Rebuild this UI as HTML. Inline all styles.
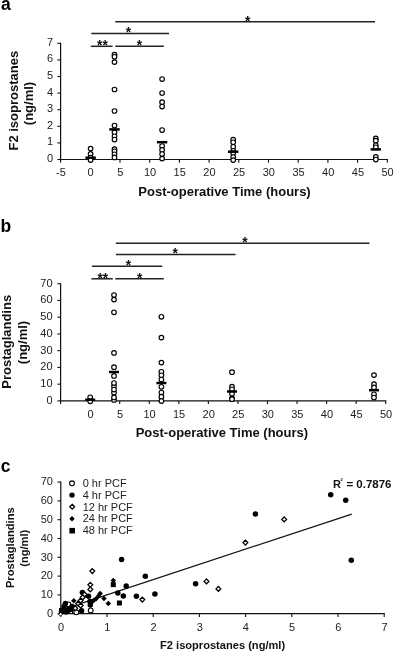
<!DOCTYPE html>
<html><head><meta charset="utf-8"><style>
html,body{margin:0;padding:0;background:#fff;}
svg{display:block;font-family:"Liberation Sans", sans-serif;will-change:transform;}
</style></head><body>
<svg width="394" height="654" viewBox="0 0 394 654">
<text x="0.90" y="9.60" font-size="17.5" text-anchor="start" fill="#000" font-weight="bold" >a</text>
<text x="0.60" y="232.20" font-size="17.5" text-anchor="start" fill="#000" font-weight="bold" >b</text>
<text x="0.80" y="471.80" font-size="17.5" text-anchor="start" fill="#000" font-weight="bold" >c</text>
<line x1="60.60" y1="42.80" x2="60.60" y2="160.00" stroke="#111" stroke-width="1.2"/>
<line x1="60.00" y1="159.50" x2="387.90" y2="159.50" stroke="#111" stroke-width="1.2"/>
<line x1="57.40" y1="159.50" x2="60.60" y2="159.50" stroke="#111" stroke-width="1.1"/>
<text x="53.00" y="162.00" font-size="11" text-anchor="end" fill="#222" >0</text>
<line x1="57.40" y1="142.90" x2="60.60" y2="142.90" stroke="#111" stroke-width="1.1"/>
<text x="53.00" y="145.40" font-size="11" text-anchor="end" fill="#222" >1</text>
<line x1="57.40" y1="126.30" x2="60.60" y2="126.30" stroke="#111" stroke-width="1.1"/>
<text x="53.00" y="128.80" font-size="11" text-anchor="end" fill="#222" >2</text>
<line x1="57.40" y1="109.70" x2="60.60" y2="109.70" stroke="#111" stroke-width="1.1"/>
<text x="53.00" y="112.20" font-size="11" text-anchor="end" fill="#222" >3</text>
<line x1="57.40" y1="93.10" x2="60.60" y2="93.10" stroke="#111" stroke-width="1.1"/>
<text x="53.00" y="95.60" font-size="11" text-anchor="end" fill="#222" >4</text>
<line x1="57.40" y1="76.50" x2="60.60" y2="76.50" stroke="#111" stroke-width="1.1"/>
<text x="53.00" y="79.00" font-size="11" text-anchor="end" fill="#222" >5</text>
<line x1="57.40" y1="59.90" x2="60.60" y2="59.90" stroke="#111" stroke-width="1.1"/>
<text x="53.00" y="62.40" font-size="11" text-anchor="end" fill="#222" >6</text>
<line x1="57.40" y1="43.30" x2="60.60" y2="43.30" stroke="#111" stroke-width="1.1"/>
<text x="53.00" y="45.80" font-size="11" text-anchor="end" fill="#222" >7</text>
<line x1="60.60" y1="159.50" x2="60.60" y2="162.70" stroke="#111" stroke-width="1.1"/>
<text x="60.90" y="176.00" font-size="11" text-anchor="middle" fill="#222" >-5</text>
<line x1="90.30" y1="159.50" x2="90.30" y2="162.70" stroke="#111" stroke-width="1.1"/>
<text x="90.60" y="176.00" font-size="11" text-anchor="middle" fill="#222" >0</text>
<line x1="120.00" y1="159.50" x2="120.00" y2="162.70" stroke="#111" stroke-width="1.1"/>
<text x="120.30" y="176.00" font-size="11" text-anchor="middle" fill="#222" >5</text>
<line x1="149.70" y1="159.50" x2="149.70" y2="162.70" stroke="#111" stroke-width="1.1"/>
<text x="150.00" y="176.00" font-size="11" text-anchor="middle" fill="#222" >10</text>
<line x1="179.40" y1="159.50" x2="179.40" y2="162.70" stroke="#111" stroke-width="1.1"/>
<text x="179.70" y="176.00" font-size="11" text-anchor="middle" fill="#222" >15</text>
<line x1="209.10" y1="159.50" x2="209.10" y2="162.70" stroke="#111" stroke-width="1.1"/>
<text x="209.40" y="176.00" font-size="11" text-anchor="middle" fill="#222" >20</text>
<line x1="238.80" y1="159.50" x2="238.80" y2="162.70" stroke="#111" stroke-width="1.1"/>
<text x="239.10" y="176.00" font-size="11" text-anchor="middle" fill="#222" >25</text>
<line x1="268.50" y1="159.50" x2="268.50" y2="162.70" stroke="#111" stroke-width="1.1"/>
<text x="268.80" y="176.00" font-size="11" text-anchor="middle" fill="#222" >30</text>
<line x1="298.20" y1="159.50" x2="298.20" y2="162.70" stroke="#111" stroke-width="1.1"/>
<text x="298.50" y="176.00" font-size="11" text-anchor="middle" fill="#222" >35</text>
<line x1="327.90" y1="159.50" x2="327.90" y2="162.70" stroke="#111" stroke-width="1.1"/>
<text x="328.20" y="176.00" font-size="11" text-anchor="middle" fill="#222" >40</text>
<line x1="357.60" y1="159.50" x2="357.60" y2="162.70" stroke="#111" stroke-width="1.1"/>
<text x="357.90" y="176.00" font-size="11" text-anchor="middle" fill="#222" >45</text>
<line x1="387.30" y1="159.50" x2="387.30" y2="162.70" stroke="#111" stroke-width="1.1"/>
<text x="387.60" y="176.00" font-size="11" text-anchor="middle" fill="#222" >50</text>
<text x="224.50" y="195.80" font-size="13" text-anchor="middle" fill="#111" font-weight="bold" >Post-operative Time (hours)</text>
<text transform="translate(18.3,100.7) rotate(-90)" font-size="13" font-weight="bold" text-anchor="middle" fill="#111">F2 isoprostanes</text>
<text transform="translate(33.4,103.5) rotate(-90)" font-size="13" font-weight="bold" text-anchor="middle" fill="#111">(ng/ml)</text>
<circle cx="90.60" cy="148.60" r="2.3" fill="#fff" stroke="#000" stroke-width="1.15"/>
<circle cx="90.60" cy="153.90" r="2.3" fill="#fff" stroke="#000" stroke-width="1.15"/>
<circle cx="90.60" cy="157.50" r="2.3" fill="#fff" stroke="#000" stroke-width="1.15"/>
<circle cx="90.60" cy="160.10" r="2.3" fill="#fff" stroke="#000" stroke-width="1.15"/>
<circle cx="114.50" cy="54.70" r="2.3" fill="#fff" stroke="#000" stroke-width="1.15"/>
<circle cx="114.50" cy="56.80" r="2.3" fill="#fff" stroke="#000" stroke-width="1.15"/>
<circle cx="114.50" cy="62.10" r="2.3" fill="#fff" stroke="#000" stroke-width="1.15"/>
<circle cx="114.50" cy="89.50" r="2.3" fill="#fff" stroke="#000" stroke-width="1.15"/>
<circle cx="114.50" cy="111.00" r="2.3" fill="#fff" stroke="#000" stroke-width="1.15"/>
<circle cx="114.50" cy="125.50" r="2.3" fill="#fff" stroke="#000" stroke-width="1.15"/>
<circle cx="114.50" cy="132.40" r="2.3" fill="#fff" stroke="#000" stroke-width="1.15"/>
<circle cx="114.50" cy="136.30" r="2.3" fill="#fff" stroke="#000" stroke-width="1.15"/>
<circle cx="114.50" cy="139.50" r="2.3" fill="#fff" stroke="#000" stroke-width="1.15"/>
<circle cx="114.50" cy="149.20" r="2.3" fill="#fff" stroke="#000" stroke-width="1.15"/>
<circle cx="114.50" cy="151.30" r="2.3" fill="#fff" stroke="#000" stroke-width="1.15"/>
<circle cx="114.50" cy="154.30" r="2.3" fill="#fff" stroke="#000" stroke-width="1.15"/>
<circle cx="114.50" cy="157.40" r="2.3" fill="#fff" stroke="#000" stroke-width="1.15"/>
<circle cx="162.10" cy="79.10" r="2.3" fill="#fff" stroke="#000" stroke-width="1.15"/>
<circle cx="162.10" cy="93.00" r="2.3" fill="#fff" stroke="#000" stroke-width="1.15"/>
<circle cx="162.10" cy="102.20" r="2.3" fill="#fff" stroke="#000" stroke-width="1.15"/>
<circle cx="162.10" cy="106.60" r="2.3" fill="#fff" stroke="#000" stroke-width="1.15"/>
<circle cx="162.10" cy="130.00" r="2.3" fill="#fff" stroke="#000" stroke-width="1.15"/>
<circle cx="162.10" cy="146.00" r="2.3" fill="#fff" stroke="#000" stroke-width="1.15"/>
<circle cx="162.10" cy="149.90" r="2.3" fill="#fff" stroke="#000" stroke-width="1.15"/>
<circle cx="162.10" cy="154.00" r="2.3" fill="#fff" stroke="#000" stroke-width="1.15"/>
<circle cx="162.10" cy="158.60" r="2.3" fill="#fff" stroke="#000" stroke-width="1.15"/>
<circle cx="233.20" cy="139.70" r="2.3" fill="#fff" stroke="#000" stroke-width="1.15"/>
<circle cx="233.20" cy="142.30" r="2.3" fill="#fff" stroke="#000" stroke-width="1.15"/>
<circle cx="233.20" cy="146.80" r="2.3" fill="#fff" stroke="#000" stroke-width="1.15"/>
<circle cx="233.20" cy="150.80" r="2.3" fill="#fff" stroke="#000" stroke-width="1.15"/>
<circle cx="233.20" cy="153.00" r="2.3" fill="#fff" stroke="#000" stroke-width="1.15"/>
<circle cx="233.20" cy="157.00" r="2.3" fill="#fff" stroke="#000" stroke-width="1.15"/>
<circle cx="233.20" cy="160.10" r="2.3" fill="#fff" stroke="#000" stroke-width="1.15"/>
<circle cx="375.80" cy="138.40" r="2.3" fill="#fff" stroke="#000" stroke-width="1.15"/>
<circle cx="375.80" cy="140.70" r="2.3" fill="#fff" stroke="#000" stroke-width="1.15"/>
<circle cx="375.80" cy="145.30" r="2.3" fill="#fff" stroke="#000" stroke-width="1.15"/>
<circle cx="375.80" cy="147.30" r="2.3" fill="#fff" stroke="#000" stroke-width="1.15"/>
<circle cx="375.80" cy="156.90" r="2.3" fill="#fff" stroke="#000" stroke-width="1.15"/>
<circle cx="375.80" cy="159.50" r="2.3" fill="#fff" stroke="#000" stroke-width="1.15"/>
<rect x="85.40" y="156.45" width="10.4" height="2.5" fill="#000"/>
<rect x="109.30" y="128.15" width="10.4" height="2.5" fill="#000"/>
<rect x="156.90" y="140.95" width="10.4" height="2.5" fill="#000"/>
<rect x="228.00" y="150.45" width="10.4" height="2.5" fill="#000"/>
<rect x="370.60" y="148.15" width="10.4" height="2.5" fill="#000"/>
<line x1="115.30" y1="21.80" x2="375.00" y2="21.80" stroke="#222" stroke-width="1.5"/>
<text x="247.80" y="25.50" font-size="13.8" text-anchor="middle" fill="#111" font-weight="bold">*</text>
<line x1="91.30" y1="33.50" x2="169.00" y2="33.50" stroke="#222" stroke-width="1.5"/>
<text x="128.40" y="37.10" font-size="13.8" text-anchor="middle" fill="#111" font-weight="bold">*</text>
<line x1="90.80" y1="46.30" x2="112.60" y2="46.30" stroke="#222" stroke-width="1.5"/>
<line x1="115.30" y1="46.30" x2="163.80" y2="46.30" stroke="#222" stroke-width="1.5"/>
<text x="102.40" y="50.10" font-size="13.8" text-anchor="middle" fill="#111" font-weight="bold">**</text>
<text x="139.40" y="50.10" font-size="13.8" text-anchor="middle" fill="#111" font-weight="bold">*</text>
<line x1="60.60" y1="283.22" x2="60.60" y2="401.40" stroke="#111" stroke-width="1.2"/>
<line x1="60.00" y1="400.90" x2="386.31" y2="400.90" stroke="#111" stroke-width="1.2"/>
<line x1="57.40" y1="400.90" x2="60.60" y2="400.90" stroke="#111" stroke-width="1.1"/>
<text x="52.60" y="403.90" font-size="11" text-anchor="end" fill="#222" >0</text>
<line x1="57.40" y1="384.16" x2="60.60" y2="384.16" stroke="#111" stroke-width="1.1"/>
<text x="52.60" y="387.16" font-size="11" text-anchor="end" fill="#222" >10</text>
<line x1="57.40" y1="367.42" x2="60.60" y2="367.42" stroke="#111" stroke-width="1.1"/>
<text x="52.60" y="370.42" font-size="11" text-anchor="end" fill="#222" >20</text>
<line x1="57.40" y1="350.68" x2="60.60" y2="350.68" stroke="#111" stroke-width="1.1"/>
<text x="52.60" y="353.68" font-size="11" text-anchor="end" fill="#222" >30</text>
<line x1="57.40" y1="333.94" x2="60.60" y2="333.94" stroke="#111" stroke-width="1.1"/>
<text x="52.60" y="336.94" font-size="11" text-anchor="end" fill="#222" >40</text>
<line x1="57.40" y1="317.20" x2="60.60" y2="317.20" stroke="#111" stroke-width="1.1"/>
<text x="52.60" y="320.20" font-size="11" text-anchor="end" fill="#222" >50</text>
<line x1="57.40" y1="300.46" x2="60.60" y2="300.46" stroke="#111" stroke-width="1.1"/>
<text x="52.60" y="303.46" font-size="11" text-anchor="end" fill="#222" >60</text>
<line x1="57.40" y1="283.72" x2="60.60" y2="283.72" stroke="#111" stroke-width="1.1"/>
<text x="52.60" y="286.72" font-size="11" text-anchor="end" fill="#222" >70</text>
<line x1="60.60" y1="400.90" x2="60.60" y2="404.10" stroke="#111" stroke-width="1.1"/>
<line x1="90.16" y1="400.90" x2="90.16" y2="404.10" stroke="#111" stroke-width="1.1"/>
<text x="90.45" y="417.60" font-size="11" text-anchor="middle" fill="#222" >0</text>
<line x1="119.71" y1="400.90" x2="119.71" y2="404.10" stroke="#111" stroke-width="1.1"/>
<text x="120.01" y="417.60" font-size="11" text-anchor="middle" fill="#222" >5</text>
<line x1="149.26" y1="400.90" x2="149.26" y2="404.10" stroke="#111" stroke-width="1.1"/>
<text x="149.56" y="417.60" font-size="11" text-anchor="middle" fill="#222" >10</text>
<line x1="178.82" y1="400.90" x2="178.82" y2="404.10" stroke="#111" stroke-width="1.1"/>
<text x="179.12" y="417.60" font-size="11" text-anchor="middle" fill="#222" >15</text>
<line x1="208.37" y1="400.90" x2="208.37" y2="404.10" stroke="#111" stroke-width="1.1"/>
<text x="208.67" y="417.60" font-size="11" text-anchor="middle" fill="#222" >20</text>
<line x1="237.93" y1="400.90" x2="237.93" y2="404.10" stroke="#111" stroke-width="1.1"/>
<text x="238.23" y="417.60" font-size="11" text-anchor="middle" fill="#222" >25</text>
<line x1="267.49" y1="400.90" x2="267.49" y2="404.10" stroke="#111" stroke-width="1.1"/>
<text x="267.79" y="417.60" font-size="11" text-anchor="middle" fill="#222" >30</text>
<line x1="297.04" y1="400.90" x2="297.04" y2="404.10" stroke="#111" stroke-width="1.1"/>
<text x="297.34" y="417.60" font-size="11" text-anchor="middle" fill="#222" >35</text>
<line x1="326.60" y1="400.90" x2="326.60" y2="404.10" stroke="#111" stroke-width="1.1"/>
<text x="326.90" y="417.60" font-size="11" text-anchor="middle" fill="#222" >40</text>
<line x1="356.15" y1="400.90" x2="356.15" y2="404.10" stroke="#111" stroke-width="1.1"/>
<text x="356.45" y="417.60" font-size="11" text-anchor="middle" fill="#222" >45</text>
<line x1="385.70" y1="400.90" x2="385.70" y2="404.10" stroke="#111" stroke-width="1.1"/>
<text x="386.00" y="417.60" font-size="11" text-anchor="middle" fill="#222" >50</text>
<text x="221.90" y="437.20" font-size="13" text-anchor="middle" fill="#111" font-weight="bold" >Post-operative Time (hours)</text>
<text transform="translate(11.4,341.8) rotate(-90)" font-size="13" font-weight="bold" text-anchor="middle" fill="#111">Prostaglandins</text>
<text transform="translate(26.9,342.5) rotate(-90)" font-size="13" font-weight="bold" text-anchor="middle" fill="#111">(ng/ml)</text>
<circle cx="90.20" cy="397.30" r="2.3" fill="#fff" stroke="#000" stroke-width="1.15"/>
<circle cx="90.20" cy="401.30" r="2.3" fill="#fff" stroke="#000" stroke-width="1.15"/>
<circle cx="114.00" cy="295.00" r="2.3" fill="#fff" stroke="#000" stroke-width="1.15"/>
<circle cx="114.00" cy="299.60" r="2.3" fill="#fff" stroke="#000" stroke-width="1.15"/>
<circle cx="114.00" cy="312.30" r="2.3" fill="#fff" stroke="#000" stroke-width="1.15"/>
<circle cx="114.00" cy="352.90" r="2.3" fill="#fff" stroke="#000" stroke-width="1.15"/>
<circle cx="114.00" cy="367.20" r="2.3" fill="#fff" stroke="#000" stroke-width="1.15"/>
<circle cx="114.00" cy="375.90" r="2.3" fill="#fff" stroke="#000" stroke-width="1.15"/>
<circle cx="114.00" cy="386.10" r="2.3" fill="#fff" stroke="#000" stroke-width="1.15"/>
<circle cx="114.00" cy="392.80" r="2.3" fill="#fff" stroke="#000" stroke-width="1.15"/>
<circle cx="114.00" cy="399.90" r="2.3" fill="#fff" stroke="#000" stroke-width="1.15"/>
<circle cx="114.00" cy="383.00" r="2.3" fill="#fff" stroke="#000" stroke-width="1.15"/>
<circle cx="114.00" cy="389.50" r="2.3" fill="#fff" stroke="#000" stroke-width="1.15"/>
<circle cx="114.00" cy="397.40" r="2.3" fill="#fff" stroke="#000" stroke-width="1.15"/>
<circle cx="161.40" cy="316.80" r="2.3" fill="#fff" stroke="#000" stroke-width="1.15"/>
<circle cx="161.40" cy="337.60" r="2.3" fill="#fff" stroke="#000" stroke-width="1.15"/>
<circle cx="161.40" cy="362.60" r="2.3" fill="#fff" stroke="#000" stroke-width="1.15"/>
<circle cx="161.40" cy="371.80" r="2.3" fill="#fff" stroke="#000" stroke-width="1.15"/>
<circle cx="161.40" cy="375.30" r="2.3" fill="#fff" stroke="#000" stroke-width="1.15"/>
<circle cx="161.40" cy="379.50" r="2.3" fill="#fff" stroke="#000" stroke-width="1.15"/>
<circle cx="161.40" cy="386.80" r="2.3" fill="#fff" stroke="#000" stroke-width="1.15"/>
<circle cx="161.40" cy="392.50" r="2.3" fill="#fff" stroke="#000" stroke-width="1.15"/>
<circle cx="161.40" cy="396.70" r="2.3" fill="#fff" stroke="#000" stroke-width="1.15"/>
<circle cx="161.40" cy="401.00" r="2.3" fill="#fff" stroke="#000" stroke-width="1.15"/>
<circle cx="232.00" cy="372.20" r="2.3" fill="#fff" stroke="#000" stroke-width="1.15"/>
<circle cx="232.00" cy="386.60" r="2.3" fill="#fff" stroke="#000" stroke-width="1.15"/>
<circle cx="232.00" cy="389.30" r="2.3" fill="#fff" stroke="#000" stroke-width="1.15"/>
<circle cx="232.00" cy="393.80" r="2.3" fill="#fff" stroke="#000" stroke-width="1.15"/>
<circle cx="232.00" cy="398.40" r="2.3" fill="#fff" stroke="#000" stroke-width="1.15"/>
<circle cx="232.00" cy="399.20" r="2.3" fill="#fff" stroke="#000" stroke-width="1.15"/>
<circle cx="374.00" cy="375.10" r="2.3" fill="#fff" stroke="#000" stroke-width="1.15"/>
<circle cx="374.00" cy="384.20" r="2.3" fill="#fff" stroke="#000" stroke-width="1.15"/>
<circle cx="374.00" cy="387.40" r="2.3" fill="#fff" stroke="#000" stroke-width="1.15"/>
<circle cx="374.00" cy="394.30" r="2.3" fill="#fff" stroke="#000" stroke-width="1.15"/>
<circle cx="374.00" cy="397.50" r="2.3" fill="#fff" stroke="#000" stroke-width="1.15"/>
<rect x="85.20" y="398.45" width="10.0" height="2.5" fill="#000"/>
<rect x="109.00" y="370.75" width="10.0" height="2.5" fill="#000"/>
<rect x="156.40" y="381.75" width="10.0" height="2.5" fill="#000"/>
<rect x="227.00" y="390.25" width="10.0" height="2.5" fill="#000"/>
<rect x="369.00" y="388.95" width="10.0" height="2.5" fill="#000"/>
<line x1="115.80" y1="243.30" x2="369.50" y2="243.30" stroke="#222" stroke-width="1.5"/>
<text x="245.00" y="246.90" font-size="13.8" text-anchor="middle" fill="#111" font-weight="bold">*</text>
<line x1="115.80" y1="254.50" x2="235.60" y2="254.50" stroke="#222" stroke-width="1.5"/>
<text x="175.20" y="258.10" font-size="13.8" text-anchor="middle" fill="#111" font-weight="bold">*</text>
<line x1="91.90" y1="266.20" x2="162.20" y2="266.20" stroke="#222" stroke-width="1.5"/>
<text x="128.40" y="269.80" font-size="13.8" text-anchor="middle" fill="#111" font-weight="bold">*</text>
<line x1="91.40" y1="278.80" x2="112.80" y2="278.80" stroke="#222" stroke-width="1.5"/>
<line x1="115.30" y1="278.80" x2="163.80" y2="278.80" stroke="#222" stroke-width="1.5"/>
<text x="102.80" y="282.50" font-size="13.8" text-anchor="middle" fill="#111" font-weight="bold">**</text>
<text x="139.80" y="282.50" font-size="13.8" text-anchor="middle" fill="#111" font-weight="bold">*</text>
<line x1="60.80" y1="481.60" x2="60.80" y2="614.20" stroke="#111" stroke-width="1.2"/>
<line x1="60.20" y1="613.70" x2="384.80" y2="613.70" stroke="#111" stroke-width="1.2"/>
<line x1="57.50" y1="613.70" x2="60.80" y2="613.70" stroke="#111" stroke-width="1.1"/>
<text x="53.00" y="617.00" font-size="11" text-anchor="end" fill="#222" >0</text>
<line x1="57.50" y1="594.90" x2="60.80" y2="594.90" stroke="#111" stroke-width="1.1"/>
<text x="53.00" y="598.20" font-size="11" text-anchor="end" fill="#222" >10</text>
<line x1="57.50" y1="576.10" x2="60.80" y2="576.10" stroke="#111" stroke-width="1.1"/>
<text x="53.00" y="579.40" font-size="11" text-anchor="end" fill="#222" >20</text>
<line x1="57.50" y1="557.30" x2="60.80" y2="557.30" stroke="#111" stroke-width="1.1"/>
<text x="53.00" y="560.60" font-size="11" text-anchor="end" fill="#222" >30</text>
<line x1="57.50" y1="538.50" x2="60.80" y2="538.50" stroke="#111" stroke-width="1.1"/>
<text x="53.00" y="541.80" font-size="11" text-anchor="end" fill="#222" >40</text>
<line x1="57.50" y1="519.70" x2="60.80" y2="519.70" stroke="#111" stroke-width="1.1"/>
<text x="53.00" y="523.00" font-size="11" text-anchor="end" fill="#222" >50</text>
<line x1="57.50" y1="500.90" x2="60.80" y2="500.90" stroke="#111" stroke-width="1.1"/>
<text x="53.00" y="504.20" font-size="11" text-anchor="end" fill="#222" >60</text>
<line x1="57.50" y1="482.10" x2="60.80" y2="482.10" stroke="#111" stroke-width="1.1"/>
<text x="53.00" y="485.40" font-size="11" text-anchor="end" fill="#222" >70</text>
<line x1="60.80" y1="613.70" x2="60.80" y2="616.90" stroke="#111" stroke-width="1.1"/>
<text x="61.10" y="630.90" font-size="11" text-anchor="middle" fill="#222" >0</text>
<line x1="107.00" y1="613.70" x2="107.00" y2="616.90" stroke="#111" stroke-width="1.1"/>
<text x="107.30" y="630.90" font-size="11" text-anchor="middle" fill="#222" >1</text>
<line x1="153.20" y1="613.70" x2="153.20" y2="616.90" stroke="#111" stroke-width="1.1"/>
<text x="153.50" y="630.90" font-size="11" text-anchor="middle" fill="#222" >2</text>
<line x1="199.40" y1="613.70" x2="199.40" y2="616.90" stroke="#111" stroke-width="1.1"/>
<text x="199.70" y="630.90" font-size="11" text-anchor="middle" fill="#222" >3</text>
<line x1="245.60" y1="613.70" x2="245.60" y2="616.90" stroke="#111" stroke-width="1.1"/>
<text x="245.90" y="630.90" font-size="11" text-anchor="middle" fill="#222" >4</text>
<line x1="291.80" y1="613.70" x2="291.80" y2="616.90" stroke="#111" stroke-width="1.1"/>
<text x="292.10" y="630.90" font-size="11" text-anchor="middle" fill="#222" >5</text>
<line x1="338.00" y1="613.70" x2="338.00" y2="616.90" stroke="#111" stroke-width="1.1"/>
<text x="338.30" y="630.90" font-size="11" text-anchor="middle" fill="#222" >6</text>
<line x1="384.20" y1="613.70" x2="384.20" y2="616.90" stroke="#111" stroke-width="1.1"/>
<text x="384.50" y="630.90" font-size="11" text-anchor="middle" fill="#222" >7</text>
<text x="222.60" y="649.10" font-size="11.1" text-anchor="middle" fill="#111" font-weight="bold" >F2 isoprostanes (ng/ml)</text>
<text transform="translate(13.8,547.7) rotate(-90)" font-size="11.2" font-weight="bold" text-anchor="middle" fill="#111">Prostaglandins</text>
<text transform="translate(27.6,548.3) rotate(-90)" font-size="11.1" font-weight="bold" text-anchor="middle" fill="#111">(ng/ml)</text>
<circle cx="72.00" cy="483.30" r="2.4" fill="#fff" stroke="#000" stroke-width="1.1"/>
<circle cx="72.00" cy="495.10" r="2.7" fill="#000"/>
<path d="M72.20 504.30L74.60 506.70L72.20 509.10L69.80 506.70Z" fill="#fff" stroke="#000" stroke-width="1.3"/>
<path d="M72.00 516.00L74.70 518.70L72.00 521.40L69.30 518.70Z" fill="#000"/>
<rect x="69.40" y="527.90" width="5.60" height="5.60" fill="#000"/>
<text x="82.70" y="487.00" font-size="11" text-anchor="start" fill="#222" >0 hr PCF</text>
<text x="82.70" y="498.75" font-size="11" text-anchor="start" fill="#222" >4 hr PCF</text>
<text x="82.70" y="510.50" font-size="11" text-anchor="start" fill="#222" >12 hr PCF</text>
<text x="82.70" y="522.25" font-size="11" text-anchor="start" fill="#222" >24 hr PCF</text>
<text x="82.70" y="534.00" font-size="11" text-anchor="start" fill="#222" >48 hr PCF</text>
<text x="333.00" y="487.80" font-size="11" text-anchor="start" fill="#111" font-weight="bold" >R</text>
<text x="340.60" y="480.50" font-size="4" text-anchor="start" fill="#111" font-weight="bold" >2</text>
<text x="346.40" y="487.80" font-size="11.5" text-anchor="start" fill="#111" font-weight="bold" >= 0.7876</text>
<line x1="60.80" y1="610.09" x2="351.80" y2="514.06" stroke="#111" stroke-width="1.2"/>
<circle cx="90.70" cy="610.40" r="2.4" fill="#fff" stroke="#000" stroke-width="1.1"/>
<circle cx="74.80" cy="611.60" r="2.4" fill="#fff" stroke="#000" stroke-width="1.1"/>
<circle cx="76.30" cy="612.30" r="2.4" fill="#fff" stroke="#000" stroke-width="1.1"/>
<circle cx="68.40" cy="604.40" r="2.4" fill="#fff" stroke="#000" stroke-width="1.1"/>
<circle cx="330.70" cy="494.80" r="2.75" fill="#000"/>
<circle cx="345.70" cy="500.20" r="2.75" fill="#000"/>
<circle cx="351.30" cy="560.30" r="2.75" fill="#000"/>
<circle cx="255.40" cy="514.10" r="2.75" fill="#000"/>
<circle cx="195.60" cy="583.70" r="2.75" fill="#000"/>
<circle cx="121.60" cy="559.50" r="2.75" fill="#000"/>
<circle cx="145.30" cy="576.30" r="2.75" fill="#000"/>
<circle cx="126.20" cy="586.10" r="2.75" fill="#000"/>
<circle cx="117.80" cy="593.00" r="2.75" fill="#000"/>
<circle cx="123.30" cy="595.90" r="2.75" fill="#000"/>
<circle cx="136.40" cy="596.30" r="2.75" fill="#000"/>
<circle cx="154.90" cy="594.00" r="2.75" fill="#000"/>
<circle cx="82.40" cy="592.40" r="2.75" fill="#000"/>
<circle cx="88.50" cy="596.20" r="2.75" fill="#000"/>
<circle cx="90.00" cy="601.50" r="2.75" fill="#000"/>
<circle cx="90.30" cy="604.90" r="2.75" fill="#000"/>
<circle cx="65.40" cy="603.60" r="2.75" fill="#000"/>
<circle cx="81.60" cy="610.70" r="2.75" fill="#000"/>
<circle cx="63.50" cy="609.50" r="2.75" fill="#000"/>
<circle cx="67.50" cy="611.00" r="2.75" fill="#000"/>
<circle cx="71.50" cy="609.00" r="2.75" fill="#000"/>
<circle cx="64.00" cy="606.50" r="2.75" fill="#000"/>
<circle cx="72.00" cy="606.50" r="2.75" fill="#000"/>
<circle cx="61.50" cy="611.50" r="2.75" fill="#000"/>
<circle cx="66.00" cy="612.00" r="2.75" fill="#000"/>
<path d="M284.20 517.00L286.60 519.40L284.20 521.80L281.80 519.40Z" fill="#fff" stroke="#000" stroke-width="1.25"/>
<path d="M245.40 540.20L247.80 542.60L245.40 545.00L243.00 542.60Z" fill="#fff" stroke="#000" stroke-width="1.25"/>
<path d="M206.50 579.00L208.90 581.40L206.50 583.80L204.10 581.40Z" fill="#fff" stroke="#000" stroke-width="1.25"/>
<path d="M218.40 586.50L220.80 588.90L218.40 591.30L216.00 588.90Z" fill="#fff" stroke="#000" stroke-width="1.25"/>
<path d="M142.30 597.20L144.70 599.60L142.30 602.00L139.90 599.60Z" fill="#fff" stroke="#000" stroke-width="1.25"/>
<path d="M92.30 568.70L94.70 571.10L92.30 573.50L89.90 571.10Z" fill="#fff" stroke="#000" stroke-width="1.25"/>
<path d="M90.30 582.40L92.70 584.80L90.30 587.20L87.90 584.80Z" fill="#fff" stroke="#000" stroke-width="1.25"/>
<path d="M90.30 587.00L92.70 589.40L90.30 591.80L87.90 589.40Z" fill="#fff" stroke="#000" stroke-width="1.25"/>
<path d="M84.60 592.00L87.00 594.40L84.60 596.80L82.20 594.40Z" fill="#fff" stroke="#000" stroke-width="1.25"/>
<path d="M82.60 595.00L85.00 597.40L82.60 599.80L80.20 597.40Z" fill="#fff" stroke="#000" stroke-width="1.25"/>
<path d="M80.60 598.20L83.00 600.60L80.60 603.00L78.20 600.60Z" fill="#fff" stroke="#000" stroke-width="1.25"/>
<path d="M78.20 601.20L80.60 603.60L78.20 606.00L75.80 603.60Z" fill="#fff" stroke="#000" stroke-width="1.25"/>
<path d="M80.70 603.20L83.10 605.60L80.70 608.00L78.30 605.60Z" fill="#fff" stroke="#000" stroke-width="1.25"/>
<path d="M75.20 605.80L77.60 608.20L75.20 610.60L72.80 608.20Z" fill="#fff" stroke="#000" stroke-width="1.25"/>
<path d="M60.60 612.20L62.60 614.20L60.60 616.20L58.60 614.20Z" fill="#fff" stroke="#000" stroke-width="1.0"/>
<path d="M93.70 597.75L96.45 600.50L93.70 603.25L90.95 600.50Z" fill="#000"/>
<path d="M96.10 596.05L98.85 598.80L96.10 601.55L93.35 598.80Z" fill="#000"/>
<path d="M98.50 593.15L101.25 595.90L98.50 598.65L95.75 595.90Z" fill="#000"/>
<path d="M100.10 590.85L102.85 593.60L100.10 596.35L97.35 593.60Z" fill="#000"/>
<path d="M104.00 595.85L106.75 598.60L104.00 601.35L101.25 598.60Z" fill="#000"/>
<path d="M108.30 600.85L111.05 603.60L108.30 606.35L105.55 603.60Z" fill="#000"/>
<path d="M73.80 598.05L76.55 600.80L73.80 603.55L71.05 600.80Z" fill="#000"/>
<path d="M113.30 577.85L116.05 580.60L113.30 583.35L110.55 580.60Z" fill="#000"/>
<path d="M70.50 607.05L73.25 609.80L70.50 612.55L67.75 609.80Z" fill="#000"/>
<path d="M91.40 599.75L94.15 602.50L91.40 605.25L88.65 602.50Z" fill="#000"/>
<rect x="116.90" y="600.50" width="5.00" height="5.00" fill="#000"/>
<rect x="110.80" y="582.10" width="5.00" height="5.00" fill="#000"/>
<rect x="59.00" y="608.00" width="5.00" height="5.00" fill="#000"/>
<rect x="67.00" y="606.00" width="5.00" height="5.00" fill="#000"/>
</svg>
</body></html>
